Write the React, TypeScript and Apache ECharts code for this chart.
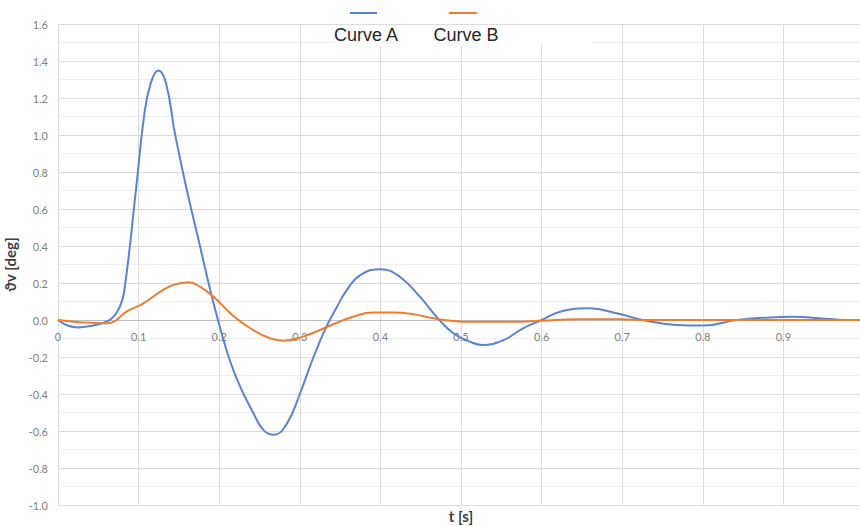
import React, { useEffect, useRef } from "react";
import * as echarts from "echarts";

const curveATime = [0, 0.012, 0.025, 0.04, 0.052, 0.062, 0.069, 0.076, 0.082, 0.0976, 0.1067, 0.115, 0.1245, 0.134, 0.145, 0.16, 0.174, 0.189, 0.201, 0.213, 0.226, 0.242, 0.255, 0.268, 0.284, 0.3, 0.317, 0.333, 0.346, 0.358, 0.375, 0.4, 0.424, 0.449, 0.471, 0.49, 0.511, 0.526, 0.553, 0.577, 0.6, 0.623, 0.66, 0.693, 0.73, 0.768, 0.8, 0.842, 0.883, 0.912, 0.945, 0.978, 1.0];
const curveAValues = [0, -0.03, -0.04, -0.033, -0.022, -0.005, 0.018, 0.065, 0.15, 0.739, 1.099, 1.279, 1.348, 1.28, 1.01, 0.7, 0.44, 0.16, -0.04, -0.216, -0.36, -0.5, -0.595, -0.62, -0.56, -0.4, -0.2, -0.036, 0.07, 0.16, 0.243, 0.275, 0.234, 0.126, 0.01, -0.07, -0.117, -0.135, -0.108, -0.045, 0, 0.045, 0.063, 0.036, -0.004, -0.027, -0.03, 0, 0.014, 0.018, 0.01, 0, 0];

const curveBTime = [0, 0.031, 0.06, 0.069, 0.085, 0.106, 0.127, 0.143, 0.162, 0.176, 0.195, 0.2175, 0.242, 0.263, 0.2795, 0.304, 0.325, 0.346, 0.366, 0.391, 0.416, 0.441, 0.466, 0.49, 0.515, 0.565, 0.6, 0.644, 0.698, 0.73, 1.0];
const curveBValues = [0, -0.013, -0.018, -0.01, 0.045, 0.09, 0.153, 0.19, 0.204, 0.18, 0.118, 0.022, -0.054, -0.099, -0.112, -0.09, -0.054, -0.015, 0.018, 0.04, 0.04, 0.031, 0.009, -0.005, -0.01, -0.01, -0.004, 0.004, 0.004, 0, 0];

const seriesNames = ["Curve A", "Curve B"];
const seriesColors = ["#5b83cf", "#ED7D31"];

const yAxisTitle = "ϑv [deg]";
const xAxisTitle = "t [s]";

export default function App() {
  const ref = useRef<HTMLDivElement>(null);
  useEffect(() => {
    if (!ref.current) return;
    const chart = echarts.init(ref.current, undefined, { renderer: "svg" });
    const dataA = curveATime.map((t, i) => [t, curveAValues[i]]);
    const dataB = curveBTime.map((t, i) => [t, curveBValues[i]]);
    const labelFont = "Lato, 'Open Sans', sans-serif";
    chart.setOption({
      animation: false,
      backgroundColor: "#ffffff",
      grid: { left: 58, right: -4, top: 24, bottom: 21, containLabel: false, outerBoundsMode: "none" },
      xAxis: {
        type: "value",
        min: 0,
        max: 1,
        interval: 0.1,
        offset: -185,
        name: xAxisTitle,
        nameLocation: "middle",
        nameGap: 188,
        nameTextStyle: { fontFamily: labelFont, fontWeight: "bold", fontSize: 15, color: "#404040" },
        axisLine: { show: true, onZero: false, lineStyle: { color: "#bfbfbf", width: 1 } },
        axisTick: { show: false },
        axisLabel: {
          margin: 11,
          fontFamily: labelFont,
          fontSize: 11,
          color: "#808080",
          showMaxLabel: false,
          formatter: (v: number) => (v === 0 ? "0" : v.toFixed(1)),
        },
        splitLine: { show: true, lineStyle: { color: "#dcdcdc", width: 1 } },
      },
      yAxis: {
        type: "value",
        min: -1,
        max: 1.6,
        interval: 0.2,
        name: yAxisTitle,
        nameLocation: "middle",
        nameGap: 36,
        nameRotate: 90,
        nameTextStyle: { fontFamily: labelFont, fontWeight: "bold", fontSize: 15, color: "#404040" },
        axisLine: { show: false, onZero: false },
        axisTick: { show: false },
        axisLabel: {
          margin: 10,
          fontFamily: labelFont,
          fontSize: 11,
          color: "#808080",
          formatter: (v: number) => v.toFixed(1),
        },
        splitLine: { show: true, lineStyle: { color: "#dcdcdc", width: 1 } },
        minorTick: { show: false, splitNumber: 2 },
        minorSplitLine: { show: true, lineStyle: { color: "#efefef", width: 1 } },
      },
      series: [
        {
          name: seriesNames[0],
          type: "line",
          data: dataA,
          smooth: 0.45,
          showSymbol: false,
          lineStyle: { color: seriesColors[0], width: 2 },
          itemStyle: { color: seriesColors[0] },
          z: 3,
        },
        {
          name: seriesNames[1],
          type: "line",
          data: dataB,
          smooth: 0.45,
          showSymbol: false,
          lineStyle: { color: seriesColors[1], width: 2 },
          itemStyle: { color: seriesColors[1] },
          z: 4,
        },
      ],
      graphic: [
        {
          type: "rect",
          shape: { x: 333, y: 26, width: 260, height: 20 },
          style: { fill: "#ffffff" },
          z: 10,
        },
        {
          type: "line",
          shape: { x1: 350, y1: 13, x2: 377, y2: 13 },
          style: { stroke: seriesColors[0], lineWidth: 2 },
          z: 11,
        },
        {
          type: "line",
          shape: { x1: 449, y1: 13, x2: 477, y2: 13 },
          style: { stroke: seriesColors[1], lineWidth: 2 },
          z: 11,
        },
        {
          type: "text",
          x: 366,
          y: 35,
          style: {
            text: seriesNames[0],
            fill: "#262626",
            fontSize: 18,
            fontFamily: "'Liberation Sans', Arial, sans-serif",
            align: "center",
            verticalAlign: "middle",
          },
          z: 11,
        },
        {
          type: "text",
          x: 466,
          y: 35,
          style: {
            text: seriesNames[1],
            fill: "#262626",
            fontSize: 18,
            fontFamily: "'Liberation Sans', Arial, sans-serif",
            align: "center",
            verticalAlign: "middle",
          },
          z: 11,
        },
      ],
    });
    return () => chart.dispose();
  }, []);
  return (
    <div
      ref={ref}
      style={{ position: "absolute", left: 0, top: 0, width: 860, height: 526, overflow: "hidden" }}
    />
  );
}
